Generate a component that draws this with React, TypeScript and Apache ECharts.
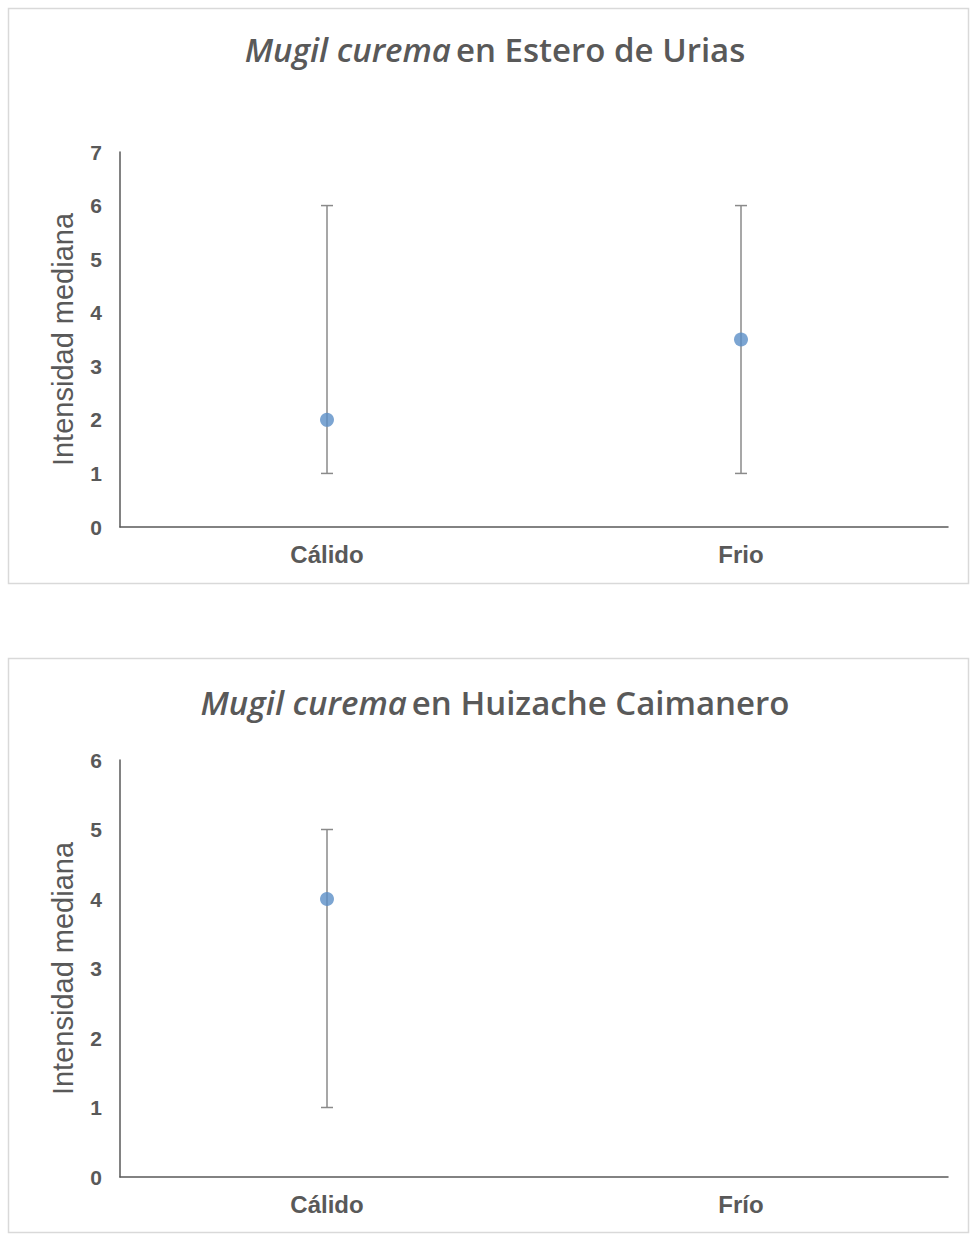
import React, { useEffect, useRef } from "react";
import * as echarts from "echarts";

const categories = ["Cálido", "Frio"];
const categories2 = ["Cálido", "Frío"];

const medians1 = [2, 3.5];
const lows1 = [1, 1];
const highs1 = [6, 6];

const medians2: (number | null)[] = [4, null];
const lows2: (number | null)[] = [1, null];
const highs2: (number | null)[] = [5, null];

const yMax1 = 7;
const yMax2 = 6;

const GREY = "#595959";

function errSeries(xIndex: number, lows: (number | null)[], highs: (number | null)[]) {
  const data = lows
    .map((l, i) => (l === null || highs[i] === null ? null : [i, l, highs[i]]))
    .filter((d) => d !== null);
  return {
    type: "custom",
    xAxisIndex: xIndex,
    yAxisIndex: xIndex,
    data,
    z: 1,
    renderItem: (params: any, api: any) => {
      const x = api.value(0);
      const lo = api.coord([x, api.value(1)]);
      const hi = api.coord([x, api.value(2)]);
      const w = 6;
      const style = { stroke: "#8a8a8a", lineWidth: 1.5 };
      return {
        type: "group",
        children: [
          { type: "line", shape: { x1: lo[0], y1: lo[1], x2: hi[0], y2: hi[1] }, style },
          { type: "line", shape: { x1: hi[0] - w, y1: hi[1], x2: hi[0] + w, y2: hi[1] }, style },
          { type: "line", shape: { x1: lo[0] - w, y1: lo[1], x2: lo[0] + w, y2: lo[1] }, style },
        ],
      };
    },
  };
}

function titleObj(place: string, top: number) {
  return {
    text: "{i|Mugil curema} {n|" + place + "}",
    left: 490,
    textAlign: "center",
    top,
    textStyle: {
      rich: {
        i: { fontFamily: "Open Sans", fontStyle: "italic", fontWeight: 600, fontSize: 33, color: GREY },
        n: { fontFamily: "Open Sans", fontWeight: 600, fontSize: 33, color: GREY },
      },
    },
  };
}

function xAxisObj(gi: number, cats: string[]) {
  return {
    type: "category",
    gridIndex: gi,
    data: cats,
    axisLine: { lineStyle: { color: GREY, width: 1.5 } },
    axisTick: { show: false },
    axisLabel: { color: GREY, fontFamily: "Arial, Liberation Sans", fontWeight: "bold", fontSize: 24, margin: 15 },
  };
}

function yAxisObj(gi: number, max: number) {
  return {
    type: "value",
    gridIndex: gi,
    min: 0,
    max,
    interval: 1,
    name: "Intensidad mediana",
    nameLocation: "middle",
    nameGap: 43,
    nameTextStyle: { color: GREY, fontFamily: "Arial, Liberation Sans", fontSize: 29 },
    axisLine: { show: true, lineStyle: { color: GREY, width: 1.5 } },
    axisTick: { show: false },
    splitLine: { show: false },
    axisLabel: { color: GREY, fontFamily: "Arial, Liberation Sans", fontWeight: "bold", fontSize: 21, margin: 18 },
  };
}

export default function App() {
  const ref = useRef<HTMLDivElement>(null);
  useEffect(() => {
    if (!ref.current) return;
    const chart = echarts.init(ref.current, null, { renderer: "svg" });
    chart.setOption({
      animation: false,
      backgroundColor: "#ffffff",
      graphic: [
        { type: "rect", shape: { x: 8.5, y: 8.5, width: 960, height: 575 }, style: { fill: "none", stroke: "#d9d9d9", lineWidth: 1.5 } },
        { type: "rect", shape: { x: 8.5, y: 658.5, width: 960, height: 574 }, style: { fill: "none", stroke: "#d9d9d9", lineWidth: 1.5 } },
      ],
      title: [titleObj("en Estero de Urias", 28), titleObj("en Huizache Caimanero", 681)],
      grid: [
        { left: 120, right: 23, top: 152, height: 375 },
        { left: 120, right: 23, top: 760, height: 417 },
      ],
      xAxis: [xAxisObj(0, categories), xAxisObj(1, categories2)],
      yAxis: [yAxisObj(0, yMax1), yAxisObj(1, yMax2)],
      series: [
        errSeries(0, lows1, highs1),
        {
          type: "scatter",
          xAxisIndex: 0,
          yAxisIndex: 0,
          data: medians1.map((v, i) => [i, v]),
          symbolSize: 14,
          itemStyle: { color: "#5b8fc7" },
          z: 3,
        },
        errSeries(1, lows2, highs2),
        {
          type: "scatter",
          xAxisIndex: 1,
          yAxisIndex: 1,
          data: medians2.map((v, i) => (v === null ? null : [i, v])).filter((d) => d !== null),
          symbolSize: 14,
          itemStyle: { color: "#5b8fc7" },
          z: 3,
        },
      ],
    });
    return () => chart.dispose();
  }, []);
  return (
    <div
      ref={ref}
      style={{ position: "fixed", left: 0, top: 0, width: 971, height: 1234 }}
    />
  );
}
